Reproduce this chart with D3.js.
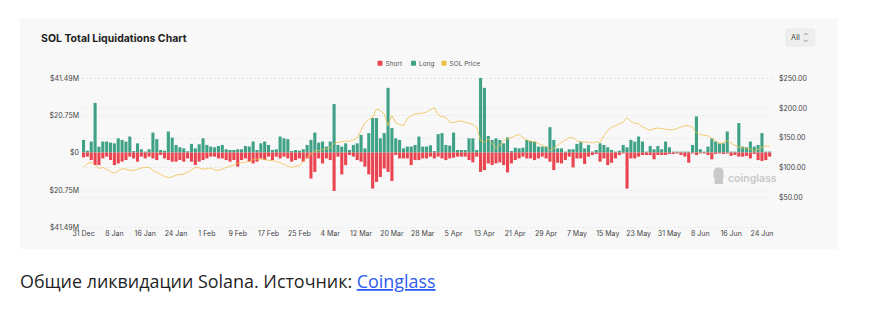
<!DOCTYPE html>
<html>
<head>
<meta charset="utf-8">
<script src="https://cdn.jsdelivr.net/npm/d3@7"></script>
<style>
  body { margin: 0; background: #ffffff; }
  svg { display: block; }
</style>
</head>
<body>
<svg id="chart" width="896" height="331"></svg>
<script>
// Daily SOL liquidations (USD millions) from 31 Dec 2023, plus SOL close price
const startDate = "2023-12-31";

const tickLabels = ["31 Dec", "8 Jan", "16 Jan", "24 Jan", "1 Feb", "9 Feb", "17 Feb", "25 Feb",
  "4 Mar", "12 Mar", "20 Mar", "28 Mar", "5 Apr", "13 Apr", "21 Apr", "29 Apr",
  "7 May", "15 May", "23 May", "31 May", "8 Jun", "16 Jun", "24 Jun"];

const longVals = [
  7.0, 1.0, 6.1, 27.6, 3.3, 6.1, 6.1, 5.5, 5.1, 7.9,
  7.0, 6.1, 8.9, 0.8, 5.1, 1.8, 0.5, 1.8, 11.1, 7.4,
  1.4, 1.0, 11.7, 8.3, 4.2, 2.9, 2.3, 0.7, 4.8, 2.3,
  4.6, 7.9, 4.2, 3.3, 2.9, 3.6, 4.2, 1.8, 1.4, 1.4,
  1.8, 1.8, 3.6, 3.3, 6.1, 1.4, 5.1, 6.1, 4.2, 1.4,
  1.8, 8.9, 7.9, 7.4, 0.8, 1.4, 1.0, 1.8, 4.2, 7.0,
  11.1, 5.5, 6.1, 3.3, 6.1, 27.0, 4.2, 3.3, 5.1, 1.4,
  4.2, 5.1, 9.8, 2.3, 10.8, 19.2, 19.2, 7.9, 10.8, 36.0,
  13.6, 7.9, 7.0, 2.3, 3.3, 3.3, 4.2, 8.9, 3.3, 3.3,
  4.0, 0.8, 10.2, 10.8, 4.2, 3.8, 11.1, 1.4, 1.4, 1.4,
  7.9, 7.9, 1.4, 41.49, 36.0, 9.2, 7.0, 7.9, 7.0, 5.1,
  8.4, 0.8, 2.7, 2.3, 2.7, 7.0, 6.4, 6.1, 3.3, 3.3,
  3.3, 14.1, 7.0, 2.3, 2.3, 0.5, 1.8, 1.8, 4.8, 6.1,
  2.3, 4.2, 0.5, 1.4, 5.1, 4.2, 2.9, 1.4, 0.5, 1.0,
  4.2, 2.9, 7.0, 6.1, 8.9, 6.1, 0.5, 3.6, 1.8, 3.6,
  1.8, 6.1, 2.9, 0.5, 0.5, 0.5, 0.5, 0.5, 4.2, 20.1,
  1.8, 0.5, 3.3, 7.9, 6.1, 5.1, 5.1, 11.7, 0.5, 0.5,
  16.4, 3.3, 2.9, 6.1, 3.3, 4.2, 10.8, 0.5, 0.5
];

const shortVals = [
  2.7, 2.3, 4.2, 7.0, 7.0, 3.3, 2.3, 4.2, 7.0, 6.1,
  5.1, 4.2, 2.3, 3.3, 5.1, 2.3, 3.3, 2.3, 3.3, 4.2,
  1.4, 3.3, 4.2, 5.1, 5.1, 4.2, 5.1, 3.3, 5.1, 7.0,
  5.1, 4.2, 3.3, 2.3, 2.3, 3.3, 3.3, 4.2, 5.1, 4.2,
  7.9, 4.2, 3.3, 5.1, 6.1, 5.1, 3.3, 4.2, 2.3, 4.2,
  2.3, 3.3, 2.3, 3.3, 5.1, 4.2, 3.3, 5.1, 3.3, 14.5,
  10.8, 3.3, 6.1, 3.3, 4.2, 21.4, 2.3, 12.2, 7.0, 1.4,
  2.3, 4.2, 5.1, 7.9, 12.2, 20.1, 16.4, 13.6, 8.9, 10.8,
  15.9, 1.4, 3.3, 3.3, 3.3, 7.0, 4.2, 4.2, 3.3, 3.3,
  2.3, 3.3, 2.3, 3.3, 4.2, 3.3, 2.9, 2.3, 2.3, 2.3,
  4.2, 5.5, 2.3, 10.8, 9.8, 6.1, 7.0, 6.1, 5.5, 7.0,
  11.1, 6.1, 4.2, 3.3, 2.3, 3.3, 3.3, 4.2, 3.3, 2.3,
  3.3, 5.1, 9.8, 5.7, 6.1, 4.2, 2.3, 8.3, 3.3, 3.3,
  6.4, 2.3, 1.4, 0.8, 5.1, 3.3, 7.0, 5.7, 3.3, 1.4,
  0.5, 20.1, 3.3, 3.3, 2.3, 1.4, 1.4, 1.4, 3.8, 1.4,
  1.4, 1.4, 0.8, 0.8, 0.5, 1.4, 2.3, 5.7, 0.5, 1.4,
  0.5, 0.5, 1.4, 3.8, 0.8, 0.5, 0.8, 0.5, 1.9, 1.4,
  2.3, 2.3, 1.9, 3.3, 0.8, 4.2, 4.7, 4.2, 2.3
];

const solPrice = [
  101, 106, 109, 104, 98, 100, 97, 93, 90, 94,
  98, 97, 95, 95, 97, 99, 100, 100, 95, 92,
  88, 85, 83, 84, 87, 88, 89, 92, 96, 100,
  99, 97, 98, 99, 96, 95, 97, 100, 102, 104,
  107, 108, 109, 110, 113, 114, 114, 113, 112, 111,
  110, 108, 105, 102, 100, 102, 103, 110, 117, 122,
  128, 128, 130, 131, 133, 140, 142, 143, 144, 144,
  146, 150, 162, 175, 180, 184, 198, 195, 190, 170,
  187, 175, 172, 170, 182, 187, 190, 190, 191, 193,
  197, 200, 188, 185, 184, 176, 175, 177, 178, 176,
  174, 172, 167, 145, 142, 148, 140, 132, 137, 145,
  148, 150, 153, 155, 150, 146, 144, 143, 140, 137,
  135, 128, 132, 137, 142, 146, 150, 150, 145, 142,
  143, 142, 141, 143, 142, 153, 162, 167, 170, 173,
  176, 184, 177, 174, 173, 168, 165, 162, 165, 166,
  165, 164, 163, 163, 165, 168, 170, 170, 167, 158,
  155, 154, 153, 148, 144, 140, 142, 145, 141, 137,
  134, 133, 132, 131, 127, 130, 134, 136, 135
];

const priceTicks = [50, 100, 150, 200, 250];

const legendItems = [
  { name: "Short", color: "#e9444f" },
  { name: "Long", color: "#3fa287" },
  { name: "SOL Price", color: "#efbf45" }
];

const FONT = "Inter, 'Noto Sans', sans-serif";
const svg = d3.select("#chart");

// card
svg.append("rect").attr("x", 20).attr("y", 18).attr("width", 818).attr("height", 231)
  .attr("fill", "#f8f8f8");

svg.append("text").attr("x", 41).attr("y", 41.5)
  .attr("font-family", FONT).attr("font-size", 10.5).attr("font-weight", 700)
  .attr("fill", "#222").text("SOL Total Liquidations Chart");

// range selector
const sel = svg.append("g");
sel.append("rect").attr("x", 786).attr("y", 29).attr("width", 29).attr("height", 17).attr("rx", 3)
  .attr("fill", "#eeeeee").attr("stroke", "#e4e4e4").attr("stroke-width", 0.6);
sel.append("text").attr("x", 791).attr("y", 40.3).attr("font-family", FONT)
  .attr("font-size", 7.5).attr("fill", "#444").text("All");
sel.append("path").attr("d", "M803.8,35.2 L805.8,33.2 L807.8,35.2 M803.8,39.8 L805.8,41.8 L807.8,39.8")
  .attr("fill", "none").attr("stroke", "#777").attr("stroke-width", 0.8);

// legend
const legend = svg.append("g").attr("font-family", FONT).attr("font-size", 6.5).attr("fill", "#555");
const legendX = [377.5, 411, 441.5];
legendItems.forEach((d, k) => {
  legend.append("rect").attr("x", legendX[k]).attr("y", 60.8).attr("width", 5).attr("height", 5)
    .attr("rx", 0.8).attr("fill", d.color);
  legend.append("text").attr("x", legendX[k] + 8).attr("y", 65.6).text(d.name);
});

// scales
const n = longVals.length;
const maxLiq = d3.max([d3.max(longVals), d3.max(shortVals)]);
const x = d3.scaleBand().domain(d3.range(n)).range([82, 771.2]).paddingInner(0.2);
const yL = d3.scaleLinear().domain([-maxLiq, maxLiq]).range([227, 78]);
const yR = d3.scaleLinear().domain([0, 250]).range([227, 78]);

const leftTicks = [maxLiq, maxLiq / 2, 0, -maxLiq / 2, -maxLiq];
const fmtM = d => d === 0 ? "$0" : "$" + d3.format(".2f")(Math.abs(d)) + "M";

// gridlines
const grid = svg.append("g").attr("stroke", "#e2e2e2").attr("stroke-width", 0.7)
  .attr("stroke-dasharray", "2,2");
leftTicks.forEach(t => grid.append("line").attr("x1", 82).attr("x2", 773)
  .attr("y1", Math.round(yL(t)) + 0.5).attr("y2", Math.round(yL(t)) + 0.5));
priceTicks.forEach(t => grid.append("line").attr("x1", 82).attr("x2", 773)
  .attr("y1", Math.round(yR(t)) + 0.5).attr("y2", Math.round(yR(t)) + 0.5));

// axes
const axL = svg.append("g").attr("transform", "translate(79,0)")
  .call(d3.axisLeft(yL).tickValues(leftTicks).tickFormat(fmtM).tickSize(0).tickPadding(0));
const axR = svg.append("g").attr("transform", "translate(779,0)")
  .call(d3.axisRight(yR).tickValues(priceTicks).tickFormat(d => "$" + d3.format(".2f")(d)).tickSize(0).tickPadding(0));
const axB = svg.append("g").attr("transform", "translate(0,231.5)")
  .call(d3.axisBottom(x).tickValues(d3.range(0, n, 8)).tickFormat((d, k) => tickLabels[k]).tickSize(0).tickPadding(0));
[axL, axR, axB].forEach(a => {
  a.select(".domain").remove();
  a.selectAll("text").attr("font-family", FONT).attr("font-size", 7).attr("fill", "#444");
});
axB.selectAll("text").attr("dy", "0.71em");

// bars
const bw = x.bandwidth();
svg.append("g").selectAll("rect").data(longVals).join("rect")
  .attr("x", (d, i) => x(i)).attr("width", bw)
  .attr("y", d => yL(d)).attr("height", d => yL(0) - yL(d))
  .attr("fill", legendItems[1].color);
svg.append("g").selectAll("rect").data(shortVals).join("rect")
  .attr("x", (d, i) => x(i)).attr("width", bw)
  .attr("y", yL(0)).attr("height", d => yL(-d) - yL(0))
  .attr("fill", legendItems[0].color);

// price line
const line = d3.line().x((d, i) => x(i) + bw / 2).y(d => yR(d));
svg.append("path").datum(solPrice).attr("d", line)
  .attr("fill", "none").attr("stroke", legendItems[2].color).attr("stroke-width", 0.9)
  .attr("stroke-opacity", 0.85);

// watermark
const wm = svg.append("g").attr("fill", "#c9c9c9");
wm.append("path").attr("d", "M713.5,172 Q713.5,167.5 718.5,167.5 Q723.5,167.5 723.5,172 L723.5,175 Q724.5,176.5 723,178 L723,184 L714.5,184 L714.5,178 Q712.5,176.5 713.5,174.5 Z");
wm.append("text").attr("x", 728).attr("y", 182).attr("font-family", FONT).attr("font-size", 10.5)
  .attr("font-weight", 600).text("coinglass");

// caption
const cap = svg.append("text").attr("x", 20).attr("y", 288)
  .attr("font-family", "'Open Sans', 'Noto Sans', sans-serif").attr("font-size", 17.9).attr("fill", "#1f1f1f");
cap.append("tspan").text("Общие ликвидации Solana. Источник: ");
cap.append("tspan").attr("fill", "#2b5cf2").style("text-decoration", "underline").text("Coinglass");
</script>
</body>
</html>
